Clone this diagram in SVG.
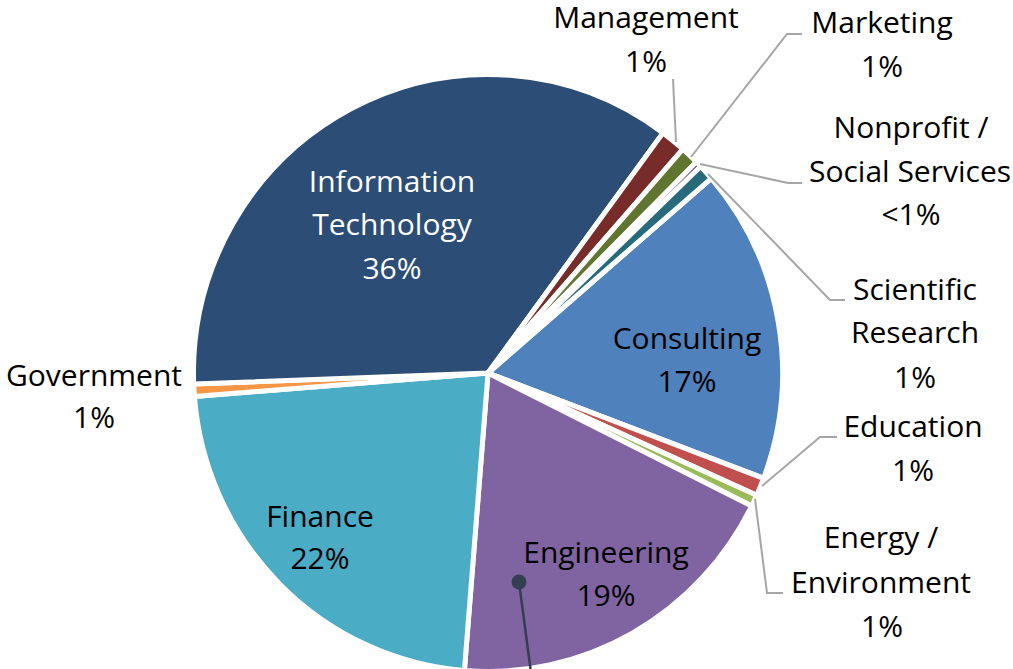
<svg xmlns="http://www.w3.org/2000/svg" width="1013" height="669" viewBox="0 0 1013 669">
<style>
.s{stroke:#ffffff;stroke-width:5;stroke-linejoin:round}
.t{font-family:"Open Sans","Liberation Sans",sans-serif;font-size:30px;fill:#000000;text-anchor:middle}
.w{fill:#ffffff}
.ld{fill:none;stroke:#a6a6a6;stroke-width:2}
</style>
<rect width="1013" height="669" fill="#ffffff"/>
<g id="slices">
<g id="consulting"><path class="s" fill="#4f81bd" d="M488,373 L711.3,178.3 A294.5,298.5 0 0 1 763.6,478.3 Z"/></g>
<g id="education"><path class="s" fill="#c0504d" d="M488,373 L763.6,478.3 A294.5,298.5 0 0 1 756.6,495.3 Z"/></g>
<g id="energy"><path class="s" fill="#9bbb59" d="M488,373 L756.6,495.3 A294.5,298.5 0 0 1 751.6,506.1 Z"/></g>
<g id="engineering"><path class="s" fill="#8064a2" d="M488,373 L751.6,506.1 A294.5,298.5 0 0 1 464.4,670.5 Z"/></g>
<g id="finance"><path class="s" fill="#4bacc6" d="M488,373 L464.4,670.5 A294.5,298.5 0 0 1 194.4,396.5 Z"/></g>
<g id="government"><path class="s" fill="#f79646" d="M488,373 L194.4,396.5 A294.5,298.5 0 0 1 193.7,384.0 Z"/></g>
<g id="it"><path class="s" fill="#2c4d75" d="M488,373 L193.7,384.0 A294.5,298.5 0 0 1 663.0,132.9 Z"/></g>
<g id="management"><path class="s" fill="#772c2a" d="M488,373 L663.0,132.9 A294.5,298.5 0 0 1 682.9,149.2 Z"/></g>
<g id="marketing"><path class="s" fill="#5f7530" d="M488,373 L682.9,149.2 A294.5,298.5 0 0 1 696.3,162.0 Z"/></g>
<g id="nonprofit"><path class="s" fill="#4d3b62" d="M488,373 L696.3,162.0 A294.5,298.5 0 0 1 700.6,166.5 Z"/></g>
<g id="scientific"><path class="s" fill="#276a7c" d="M488,373 L700.6,166.5 A294.5,298.5 0 0 1 711.3,178.3 Z"/></g>
</g>
<g id="connectors">
<polyline class="ld" points="673,79 676,142"/>
<polyline class="ld" points="802,34 787,34 691,157"/>
<polyline class="ld" points="700,164 788,183 802,183"/>
<polyline class="ld" points="708,174 830,300 845,300"/>
<polyline class="ld" points="762,486 820,437 837,437"/>
<polyline class="ld" points="755,499 767,593 783,593"/>
<line x1="519" y1="582" x2="530.5" y2="669" stroke="#333f50" stroke-width="2.5"/>
<circle cx="519" cy="582" r="7.5" fill="#333f50"/>
</g>
<g id="labels">
<g id="label-it"><text class="t w" x="392" y="192">Information</text><text class="t w" x="392" y="235">Technology</text><text class="t w" x="392" y="279">36%</text></g>
<g id="label-consulting"><text class="t" x="687" y="349">Consulting</text><text class="t" x="687" y="392">17%</text></g>
<g id="label-finance"><text class="t" x="320" y="527">Finance</text><text class="t" x="320" y="569">22%</text></g>
<g id="label-engineering"><text class="t" x="606" y="563">Engineering</text><text class="t" x="606" y="606">19%</text></g>
<g id="label-government"><text class="t" x="94" y="386">Government</text><text class="t" x="94" y="428">1%</text></g>
<g id="label-management"><text class="t" x="646" y="28">Management</text><text class="t" x="646" y="72">1%</text></g>
<g id="label-marketing"><text class="t" x="882" y="33">Marketing</text><text class="t" x="882" y="77">1%</text></g>
<g id="label-nonprofit"><text class="t" x="911" y="138">Nonprofit /</text><text class="t" x="910" y="182">Social Services</text><text class="t" x="911" y="225">&lt;1%</text></g>
<g id="label-scientific"><text class="t" x="915" y="300">Scientific</text><text class="t" x="915" y="343">Research</text><text class="t" x="915" y="388">1%</text></g>
<g id="label-education"><text class="t" x="913" y="437">Education</text><text class="t" x="913" y="481">1%</text></g>
<g id="label-energy"><text class="t" x="881" y="548">Energy /</text><text class="t" x="881" y="593">Environment</text><text class="t" x="882" y="637">1%</text></g>
</g>
</svg>
